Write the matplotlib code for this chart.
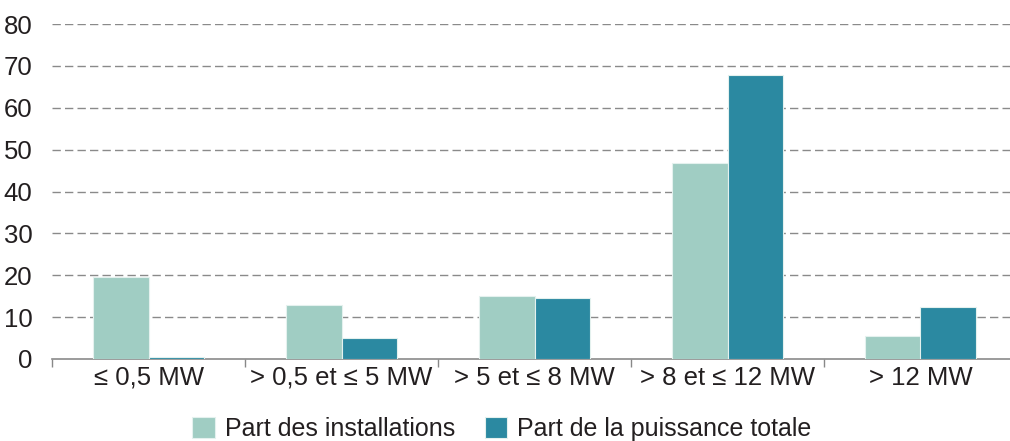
import matplotlib.pyplot as plt
import numpy as np

plt.rcParams["font.family"] = ["Liberation Sans", "DejaVu Sans"]

categories = ["≤ 0,5 MW", "> 0,5 et ≤ 5 MW", "> 5 et ≤ 8 MW", "> 8 et ≤ 12 MW", "> 12 MW"]
part_installations = [19.6, 12.9, 15.0, 46.9, 5.4]
part_puissance = [0.5, 5.0, 14.6, 67.9, 12.4]
yticks = [0, 10, 20, 30, 40, 50, 60, 70, 80]

light = "#a0cdc3"
dark = "#2b89a1"
text_color = "#231f20"

fig = plt.figure(figsize=(10.1, 4.41), dpi=100)
ax = fig.add_axes([52 / 1010, 82 / 441, 965 / 1010, 335 / 441])

x = np.arange(len(categories))
w = 0.29
ax.bar(x - w / 2, part_installations, w, color=light, edgecolor="#e4f1ee",
       linewidth=0.8, label="Part des installations", zorder=3)
ax.bar(x + w / 2, part_puissance, w, color=dark, edgecolor="#e4f1ee",
       linewidth=0.8, label="Part de la puissance totale", zorder=3)

ax.set_xlim(-0.5, len(categories) - 0.5)
ax.set_ylim(0, 80)
ax.set_yticks(yticks)
ax.set_yticklabels([str(v) for v in yticks], fontsize=18.5, color=text_color)

# category labels centred, tick marks on the group boundaries
ax.set_xticks(x)
ax.set_xticklabels(categories, fontsize=18.5, color=text_color)
ax.tick_params(axis="x", length=0, pad=5)
ax.set_xticks(np.arange(len(categories) + 1) - 0.5, minor=True)
ax.tick_params(axis="x", which="minor", length=6, color="#888888", width=1)
ax.tick_params(axis="y", length=0, pad=14)

for v in yticks[1:]:
    ax.axhline(v, color="#8a8a8a", linewidth=1, linestyle=(0, (6, 3)), zorder=1)

for side in ("top", "right", "left"):
    ax.spines[side].set_visible(False)
ax.spines["bottom"].set_color("#8a8a8a")
ax.spines["bottom"].set_linewidth(1.2)

fig.legend(loc="lower center", bbox_to_anchor=(0.497, -0.052), ncol=2, frameon=False,
           fontsize=18, handlelength=0.9, handleheight=0.9, handletextpad=0.4,
           columnspacing=1.2, labelcolor=text_color)

fig.savefig("out.png", dpi=100)
